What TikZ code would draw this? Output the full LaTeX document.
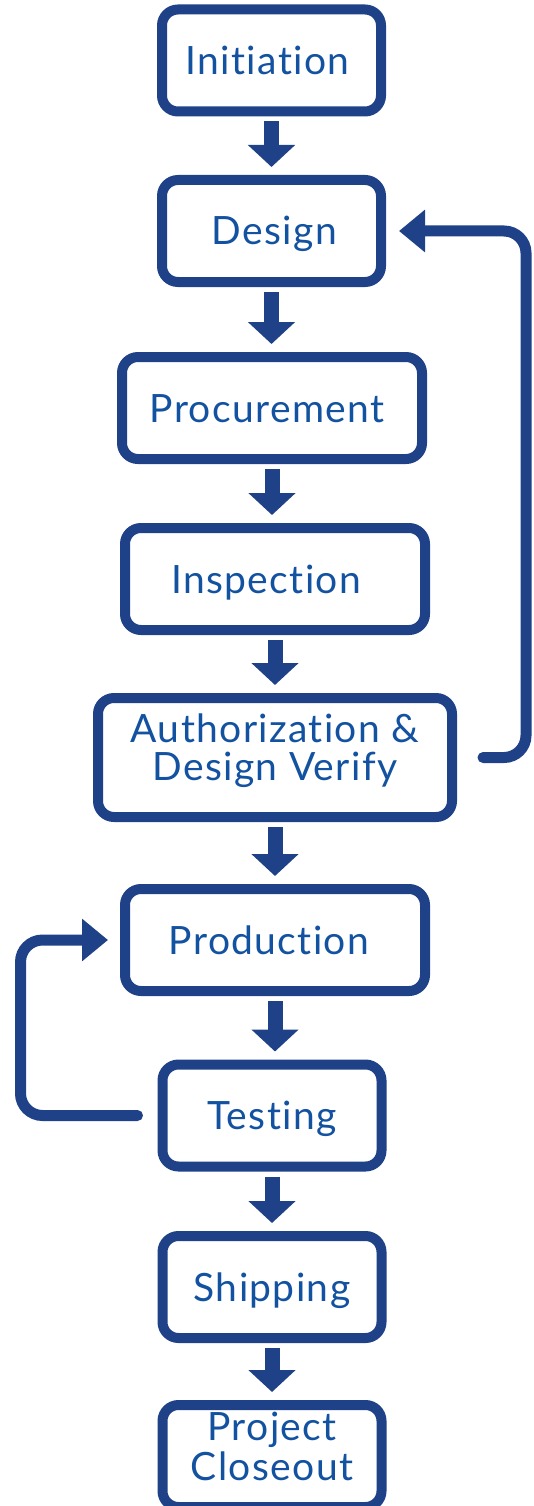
\documentclass[tikz,border=0pt]{standalone}
\usepackage{fontspec}
\setmainfont{Lato}[Ligatures={NoCommon,NoContextual}, LetterSpace=3.5]
\usetikzlibrary{arrows.meta}
\definecolor{edge}{RGB}{31,65,135}
\definecolor{ink}{RGB}{18,82,160}
\begin{document}
\begin{tikzpicture}[x=1pt,y=-1pt,
  box/.style={draw=edge, line width=10pt, rounded corners=16pt, fill=white,
    minimum height=102pt, text=ink, font=\fontsize{39}{38}\selectfont, inner sep=0pt},
  one/.style={text height=28pt, text depth=0pt},
  small/.style={box, one, minimum width=219pt},
  wide/.style={box, one, minimum width=300pt},
  flow/.style={draw=edge, line width=15pt, -{Triangle[width=46pt,length=22pt]}},
  fb/.style={draw=edge, line width=11pt, line cap=round, rounded corners=22pt,
    -{Triangle[width=41pt,length=26pt]}}]
\useasboundingbox (0,0) rectangle (534,1506);
\node[small] (init) at (271.5,60.5) {Initiation\kern8pt};
\node[small] (design) at (271.5,231) {\kern6pt Design};
\node[wide] (proc) at (272,408) {Procurement\kern10pt};
\node[wide] (insp) at (275,579) {Inspection\kern18pt};
\node[box, minimum width=354pt, minimum height=119pt, align=center, text depth=20pt] (auth) at (275,757.5) {Authorization \&\\Design Verify};
\node[wide] (prod) at (275,940) {Production\kern12pt};
\node[small] (test) at (272,1115.5) {Testing};
\node[small] (ship) at (272,1287) {Shipping};
\node[box, minimum width=219pt, align=center, text depth=20pt, font=\fontsize{39}{40}\selectfont] (close) at (272,1456) {Project\\Closeout};
\draw[flow] ([yshift=-5pt]init.south) -- ([yshift=8pt]init.south |- design.north);
\draw[flow] ([yshift=-5pt]design.south) -- ([yshift=8pt]design.south |- proc.north);
\draw[flow] ([yshift=-5pt]proc.south) -- ([yshift=8pt]proc.south |- insp.north);
\draw[flow] ([yshift=-5pt]insp.south) -- ([yshift=8pt]insp.south |- auth.north);
\draw[flow] ([yshift=-5pt]auth.south) -- ([yshift=8pt]auth.south |- prod.north);
\draw[flow] ([yshift=-5pt]prod.south) -- ([yshift=8pt]prod.south |- test.north);
\draw[flow] ([yshift=-5pt]test.south) -- ([yshift=8pt]test.south |- ship.north);
\draw[flow] ([yshift=-5pt]ship.south) -- ([yshift=8pt]ship.south |- close.north);
\draw[fb] ([xshift=26pt]auth.east) -- ([xshift=69pt]auth.east) |- ([xshift=13pt]design.east);
\draw[fb] ([xshift=-20pt]test.west) -- ([xshift=-137pt]test.west) |- ([xshift=-12pt]prod.west);
\end{tikzpicture}
\end{document}
